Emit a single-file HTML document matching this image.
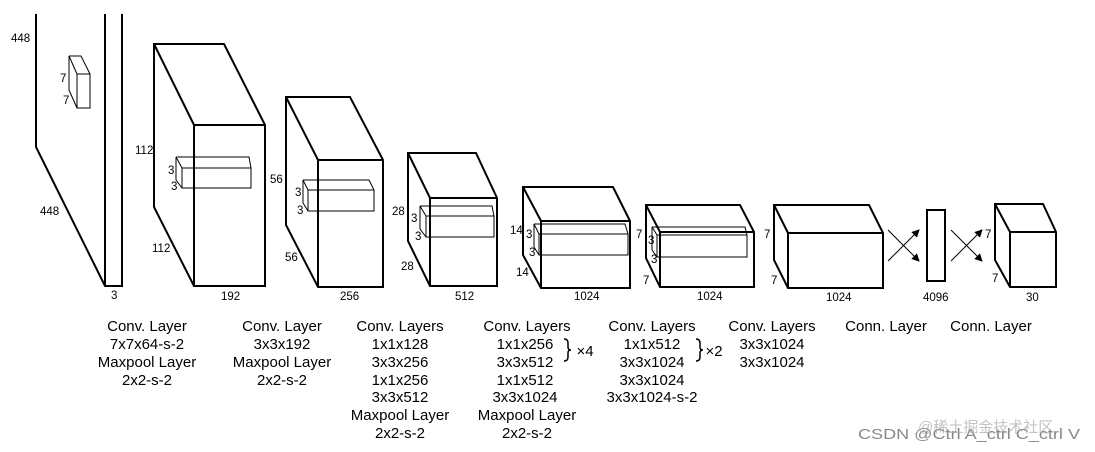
<!DOCTYPE html>
<html><head><meta charset="utf-8"><style>
html,body{margin:0;padding:0;background:#fff;}
svg{display:block;}
.o{fill:#fff;stroke:#000;stroke-width:2;stroke-linejoin:miter;}
.t{fill:none;stroke:#000;stroke-width:2;}
.i{fill:none;stroke:#000;stroke-width:1;}
.n{font-family:"Liberation Sans",sans-serif;font-size:11.5px;fill:#000;}
.c{font-family:"Liberation Sans",sans-serif;font-size:15px;fill:#000;text-anchor:middle;}
</style></head><body>
<svg width="1095" height="452" viewBox="0 0 1095 452" xmlns="http://www.w3.org/2000/svg">
<defs><marker id="a" markerWidth="8" markerHeight="8" refX="7" refY="4" orient="auto" markerUnits="userSpaceOnUse"><path d="M0,0 L8,4 L0,8 Z" fill="#000"/></marker></defs>

<path class="t" d="M36,14 V147 L105,286 H122 V14 M105,14 V286"/>
<path class="i" d="M69,56 H81 L90,74 V108 H77 V74 H90 M69,56 L77,74 M69,56 V90 L77,108"/>
<text class="n" x="11" y="42">448</text>
<text class="n" x="40" y="215">448</text>
<text class="n" x="60" y="82">7</text>
<text class="n" x="63" y="104">7</text>
<text class="n" x="111" y="299">3</text>

<path class="o" d="M154,44 H224 L265,125 V286 H194 L154,207 Z"/>
<path class="t" d="M154,44 L194,125 H265 M194,125 V286"/>
<path class="i" d="M176,157 H249 L251,168 V188 H182 V168 H251 M176,157 L182,168 M176,157 V180 L182,188"/>
<text class="n" x="135" y="154">112</text>
<text class="n" x="152" y="252">112</text>
<text class="n" x="168" y="174">3</text>
<text class="n" x="171" y="190">3</text>
<text class="n" x="221" y="300">192</text>

<path class="o" d="M286,97 H350 L383,160 V287 H318 L286,225 Z"/>
<path class="t" d="M286,97 L318,160 H383 M318,160 V287"/>
<path class="i" d="M303,180 H369 L374,190 V211 H308 V190 H374 M303,180 L308,190 M303,180 V203 L308,211"/>
<text class="n" x="270" y="183">56</text>
<text class="n" x="285" y="261">56</text>
<text class="n" x="295" y="196">3</text>
<text class="n" x="297" y="214">3</text>
<text class="n" x="340" y="300">256</text>

<path class="o" d="M408,153 H476 L497,198 V286 H430 L408,241 Z"/>
<path class="t" d="M408,153 L430,198 H497 M430,198 V286"/>
<path class="i" d="M420,206 H492 L494,216 V237 H426 V216 H494 M420,206 L426,216 M420,206 V229 L426,237"/>
<text class="n" x="392" y="215">28</text>
<text class="n" x="401" y="270">28</text>
<text class="n" x="411" y="222">3</text>
<text class="n" x="415" y="240">3</text>
<text class="n" x="455" y="300">512</text>

<path class="o" d="M523,187 H613 L630,221 V288 H541 L523,255 Z"/>
<path class="t" d="M523,187 L541,221 H630 M541,221 V288"/>
<path class="i" d="M534,224 H625 L628,234 V255 H539 V234 H628 M534,224 L539,234 M534,224 V247 L539,255"/>
<text class="n" x="510" y="234">14</text>
<text class="n" x="516" y="276">14</text>
<text class="n" x="526" y="238">3</text>
<text class="n" x="529" y="256">3</text>
<text class="n" x="574" y="300">1024</text>

<path class="o" d="M646,205 H740 L754,232 V287 H660 L646,258 Z"/>
<path class="t" d="M646,205 L660,232 H754 M660,232 V287"/>
<path class="i" d="M652,227 H745 L747,235 V257 H657 V235 H747 M652,227 L657,235 M652,227 V250 L657,257"/>
<text class="n" x="636" y="238">7</text>
<text class="n" x="643" y="284">7</text>
<text class="n" x="648" y="244">3</text>
<text class="n" x="651" y="263">3</text>
<text class="n" x="697" y="300">1024</text>

<path class="o" d="M774,205 H869 L883,233 V288 H788 L774,260 Z"/>
<path class="t" d="M774,205 L788,233 H883 M788,233 V288"/>
<text class="n" x="764" y="238">7</text>
<text class="n" x="771" y="284">7</text>
<text class="n" x="826" y="301">1024</text>

<line x1="888" y1="230" x2="919" y2="261" stroke="#000" stroke-width="1" marker-end="url(#a)"/>
<line x1="888" y1="261" x2="919" y2="230" stroke="#000" stroke-width="1" marker-end="url(#a)"/>
<rect x="927" y="210" width="18" height="71" class="o"/>
<text class="n" x="923" y="301">4096</text>
<line x1="951" y1="230" x2="982" y2="261" stroke="#000" stroke-width="1" marker-end="url(#a)"/>
<line x1="951" y1="261" x2="982" y2="230" stroke="#000" stroke-width="1" marker-end="url(#a)"/>

<path class="o" d="M995,204 H1043 L1056,232 V287 H1010 L995,260 Z"/>
<path class="t" d="M995,204 L1010,232 H1056 M1010,232 V287"/>
<text class="n" x="985" y="238">7</text>
<text class="n" x="992" y="282">7</text>
<text class="n" x="1026" y="301">30</text>

<g class="c">
<text x="147" y="331">Conv. Layer</text>
<text x="147" y="349">7x7x64-s-2</text>
<text x="147" y="367">Maxpool Layer</text>
<text x="147" y="385">2x2-s-2</text>

<text x="282" y="331">Conv. Layer</text>
<text x="282" y="349">3x3x192</text>
<text x="282" y="367">Maxpool Layer</text>
<text x="282" y="385">2x2-s-2</text>

<text x="400" y="331">Conv. Layers</text>
<text x="400" y="349">1x1x128</text>
<text x="400" y="367">3x3x256</text>
<text x="400" y="385">1x1x256</text>
<text x="400" y="402">3x3x512</text>
<text x="400" y="420">Maxpool Layer</text>
<text x="400" y="438">2x2-s-2</text>

<text x="527" y="331">Conv. Layers</text>
<text x="525" y="349">1x1x256</text>
<text x="525" y="367">3x3x512</text>
<text x="525" y="385">1x1x512</text>
<text x="525" y="402">3x3x1024</text>
<text x="527" y="420">Maxpool Layer</text>
<text x="527" y="438">2x2-s-2</text>

<text x="652" y="331">Conv. Layers</text>
<text x="652" y="349">1x1x512</text>
<text x="652" y="367">3x3x1024</text>
<text x="652" y="385">3x3x1024</text>
<text x="652" y="402">3x3x1024-s-2</text>

<text x="772" y="331">Conv. Layers</text>
<text x="772" y="349">3x3x1024</text>
<text x="772" y="367">3x3x1024</text>

<text x="886" y="331">Conn. Layer</text>
<text x="991" y="331">Conn. Layer</text>
<text x="585" y="356">×4</text>
<text x="714" y="356">×2</text>
</g>
<path d="M564,339 q4,0 4,4 v4 q0,3 3,3 q-3,0 -3,3 v4 q0,4 -4,4" fill="none" stroke="#000" stroke-width="1.5"/>
<path d="M696,339 q4,0 4,4 v4 q0,3 3,3 q-3,0 -3,3 v4 q0,4 -4,4" fill="none" stroke="#000" stroke-width="1.5"/>

<text x="858" y="439" font-family="Liberation Sans, sans-serif" font-size="15" textLength="222" lengthAdjust="spacingAndGlyphs" fill="#888">CSDN @Ctrl A_ctrl C_ctrl V</text>
<text x="918" y="432" font-family="Liberation Sans, Noto Sans CJK SC, sans-serif" font-size="15" fill="#aaa" opacity="0.7">@稀土掘金技术社区</text>
</svg>
</body></html>
